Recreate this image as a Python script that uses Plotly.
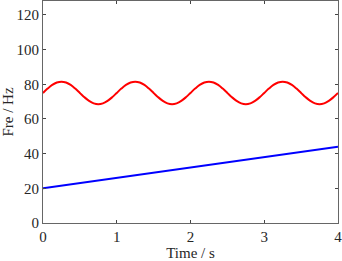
import plotly.graph_objects as go

# Time samples (s)
time_s = [i * 0.0625 for i in range(65)]
# Red series: frequency oscillating around 75 Hz
red_period = [75.0, 77.5, 79.6, 81.0, 81.5, 81.0, 79.6, 77.5,
              75.0, 72.5, 70.4, 69.0, 68.5, 69.0, 70.4, 72.5]
red_fre = (red_period * 4) + [75.0]
# Blue series: linear ramp from 20 Hz to 44 Hz
blue_time = [0, 4]
blue_fre = [20, 44]

x_ticks = [0, 1, 2, 3, 4]
y_ticks = [0, 20, 40, 60, 80, 100, 120]

fig = go.Figure()
fig.add_trace(go.Scatter(x=time_s, y=red_fre, mode="lines",
                         line=dict(color="#ff0000", width=2, shape="spline", smoothing=1.0)))
fig.add_trace(go.Scatter(x=blue_time, y=blue_fre, mode="lines",
                         line=dict(color="#0000ff", width=2)))

font_family = "Liberation Serif"
axis_common = dict(showline=True, linecolor="#666666", linewidth=1, mirror="allticks",
                   ticks="inside", ticklen=3, tickcolor="#444444", tickwidth=1,
                   showgrid=False, zeroline=False, ticklabeloverflow="allow",
                   tickfont=dict(family=font_family, size=15, color="#262626"))

fig.update_layout(
    width=342, height=261,
    margin=dict(l=43, r=4, t=1, b=38),
    paper_bgcolor="white", plot_bgcolor="white",
    showlegend=False,
    font=dict(family=font_family),
    xaxis=dict(range=[0, 4], tickvals=x_ticks, ticktext=[str(v) for v in x_ticks],
               title=dict(text="Time / s", font=dict(family=font_family, size=15, color="#262626"), standoff=2),
               **axis_common),
    yaxis=dict(range=[0, 128], tickvals=y_ticks, ticktext=[str(v) for v in y_ticks],
               title=dict(text="Fre / Hz", font=dict(family=font_family, size=15, color="#262626"), standoff=2),
               **axis_common),
)

fig.write_html("out.html", config={"displayModeBar": False},
               post_script="document.body.style.margin='0';")
